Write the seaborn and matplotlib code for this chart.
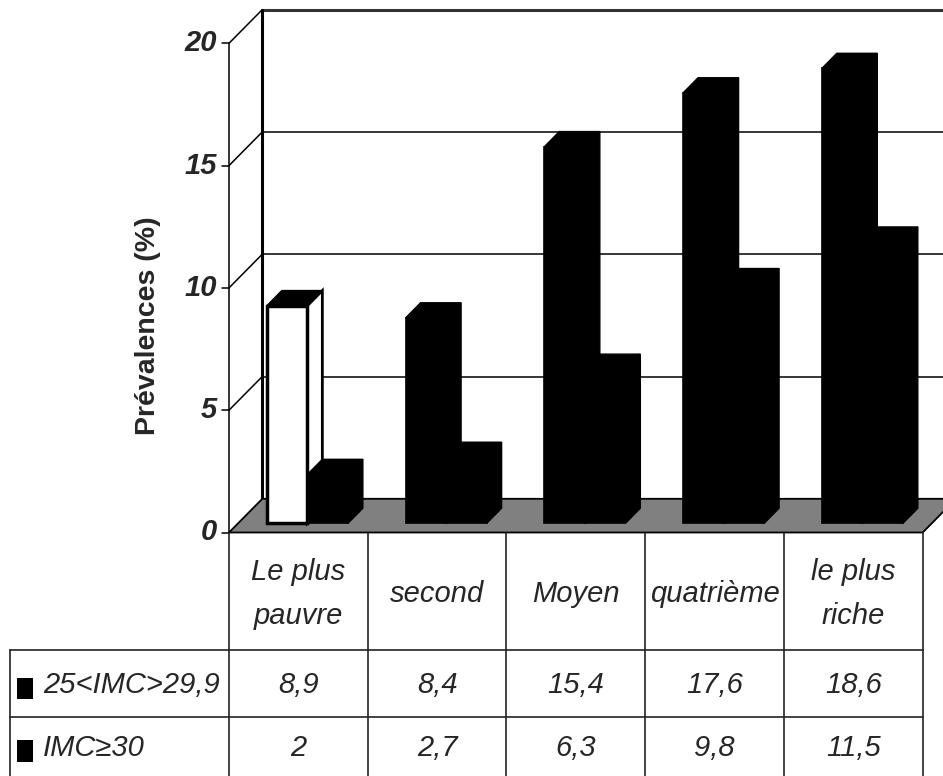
import numpy as np
import pandas as pd
import matplotlib
matplotlib.use("Agg")
import matplotlib.pyplot as plt
import seaborn as sns
from matplotlib.patches import Polygon, Rectangle
from matplotlib import font_manager as fm

# ---------------- data ----------------
categories = ["Le plus\npauvre", "second", "Moyen", "quatrième", "le plus\nriche"]
series_names = ["25<IMC>29,9", "IMC≥30"]
surpoids = [8.9, 8.4, 15.4, 17.6, 18.6]
obesite = [2, 2.7, 6.3, 9.8, 11.5]
y_ticks = [0, 5, 10, 15, 20]
y_label = "Prévalences (%)"

# ---------------- style ----------------
sns.set_style("white")


def has_font(name):
    try:
        fm.findfont(fm.FontProperties(family=name), fallback_to_default=False)
        return True
    except Exception:
        return False


narrow_ok = has_font("Liberation Sans Narrow")
narrow = "Liberation Sans Narrow" if narrow_ok else "Liberation Sans"
plt.rcParams["font.family"] = ["Liberation Sans", "DejaVu Sans"]
NARROW = [narrow, "Liberation Sans", "DejaVu Sans"]
FS_TAB = 25 if narrow_ok else 21
FS_TICK = 25 if narrow_ok else 21

W, H = 943, 776
fig = plt.figure(figsize=(W / 100, H / 100), dpi=100)
ax = fig.add_axes([229 / W, 243.5 / H, 693.7 / W, 489.2 / H])

df = pd.DataFrame({
    "cat": categories * 2,
    "val": surpoids + obesite,
    "serie": [series_names[0]] * len(categories) + [series_names[1]] * len(categories),
})
sns.barplot(data=df, x="cat", y="val", hue="serie", order=categories,
            hue_order=series_names, palette=["black", "black"], width=0.584,
            dodge=True, ax=ax, legend=False, errorbar=None, saturation=1,
            edgecolor="black", linewidth=1.2)
ax.set_xlim(-0.5, len(categories) - 0.5)
ax.set_ylim(y_ticks[0], y_ticks[-1])
ax.axis("off")

# pseudo-3D projection in data units
pxx = 693.7 / len(categories)
pxy = 489.2 / (y_ticks[-1] - y_ticks[0])
DX, DY = 33.3, 33.7


def P(x, v, d):
    return (x + d * DX / pxx, v + d * DY / pxy)


xl, xr = -0.5, len(categories) - 0.5
vmax = y_ticks[-1]

# floor
ax.add_patch(Polygon([P(xl, 0, 0), P(xr, 0, 0), P(xr, 0, 1), P(xl, 0, 1)],
                     closed=True, facecolor="#808080", edgecolor="black",
                     lw=1.3, zorder=0.5, clip_on=False))
# back wall grid and left wall
for v in y_ticks[1:]:
    ax.plot(*zip(P(xl, v, 1), P(xr + 0.3, v, 1)), color="#333333" if v == vmax else "black",
            lw=2.2 if v == vmax else 1.1, zorder=0.4, clip_on=False)
    ax.plot(*zip(P(xl, v, 0), P(xl, v, 1)), color="black", lw=1.1, zorder=0.4, clip_on=False)
ax.plot(*zip(P(xl, 0, 1), P(xl, vmax, 1)), color="black", lw=2.2, zorder=0.4, clip_on=False)
ax.plot(*zip(P(xl, 0, 0), P(xl, vmax, 0)), color="black", lw=1.1, zorder=0.4, clip_on=False)

# y ticks and labels
for v in y_ticks:
    ax.plot([xl - 7 / pxx, xl], [v, v], color="black", lw=1.1, clip_on=False)
    ax.text(xl - 12 / pxx, v, str(v), ha="right", va="center", fontsize=FS_TICK,
            fontweight="bold", fontstyle="italic", family=NARROW, clip_on=False)
ax.text(xl - 81 / pxx, (532.5 - 326) / pxy, y_label, rotation=90, ha="center",
        va="center", fontsize=20.5, fontweight="bold")

# bars: shift seaborn front faces into depth and add top/side faces
d0, d1 = 0.27, 0.72
bars = [p for p in ax.patches if isinstance(p, Rectangle) and p.get_height() > 0]
for p in bars:
    x0, w, h = p.get_x(), p.get_width(), p.get_height()
    c = x0 + w / 2
    ci = int(round(c))
    si = 0 if c < ci else 1
    white = (ci == 0 and si == 0)
    z = 2 + ci * 0.1 + si * 0.04
    x1 = x0 + w
    side = Polygon([P(x1, 0, d0), P(x1, h, d0), P(x1, h, d1), P(x1, 0, d1)], closed=True,
                   facecolor="white" if white else "black", edgecolor="black",
                   lw=2 if white else 1.0, zorder=z, clip_on=False)
    top = Polygon([P(x0, h, d0), P(x1, h, d0), P(x1, h, d1), P(x0, h, d1)], closed=True,
                  facecolor="black", edgecolor="black", lw=1.0, zorder=z + 0.01, clip_on=False)
    ax.add_patch(side)
    ax.add_patch(top)
    nx, ny = P(x0, 0, d0)
    p.set_x(nx)
    p.set_y(ny)
    p.set_zorder(z + 0.02)
    p.set_clip_on(False)
    if white:
        p.set_facecolor("white")
        p.set_linewidth(2.5)

# ---------------- data table ----------------
def vpix(py):
    return (532.5 - py) / pxy


v_head = vpix(650)
v_row = vpix(717.3)
v_bot = vpix(776.5)
x_left = xl - 219 / pxx
tcol = "#222222"
for k in range(len(categories) + 1):
    ax.plot([xl + k, xl + k], [0, v_bot], color=tcol, lw=1.2, clip_on=False)
for v in (v_head, v_row):
    ax.plot([x_left, xr], [v, v], color=tcol, lw=1.2, clip_on=False)
ax.plot([x_left, x_left], [v_head, v_bot], color=tcol, lw=1.2, clip_on=False)

for i, cat in enumerate(categories):
    ax.text(i, vpix(594), cat, ha="center", va="center", fontsize=FS_TAB,
            fontstyle="italic", family=NARROW, linespacing=1.7, clip_on=False)


def fmt(v):
    return f"{v:g}".replace(".", ",")


row_centers = [vpix(685), vpix(748)]
key_centers = [vpix(688.5), vpix(751)]
for r, (name, vals) in enumerate(zip(series_names, [surpoids, obesite])):
    for i, v in enumerate(vals):
        ax.text(i, row_centers[r], fmt(v), ha="center", va="center", fontsize=FS_TAB,
                fontstyle="italic", family=NARROW, clip_on=False)
    kw, kh = 16.6 / pxx, 21.3 / pxy
    ax.add_patch(Rectangle((xl - (229 - 16.7) / pxx, key_centers[r] - kh / 2), kw, kh,
                           facecolor="black", edgecolor="none", clip_on=False))
    ax.text(xl - (229 - 42.7) / pxx, row_centers[r], name, ha="left", va="center",
            fontsize=FS_TAB, fontstyle="italic", family=NARROW, clip_on=False)

fig.savefig("out.png", dpi=100)
